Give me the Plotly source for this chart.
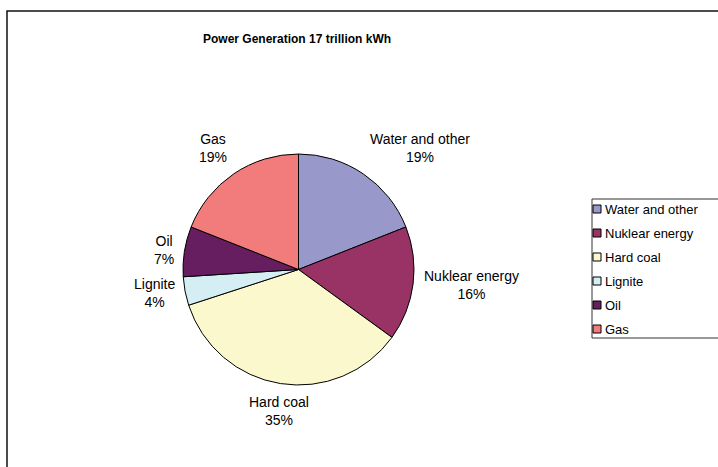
import math
import plotly.graph_objects as go

# Power generation mix, share of 17 trillion kWh (%)
categories = ["Water and other", "Nuklear energy", "Hard coal", "Lignite", "Oil", "Gas"]
shares = [19, 16, 35, 4, 7, 19]
colors = ["#9898CB", "#993366", "#FBF8CE", "#D4EEF3", "#661E60", "#F27C7C"]
title_text = "Power Generation 17 trillion kWh"

W, H = 718, 467
FONT = "Liberation Sans, Arial, sans-serif"

# pie geometry (pixels)
CX, CY, R = 298.5, 269.5, 115.5
LABEL_R = R + 9.5      # where the data labels start


def px(x):
    return x / W


def py(y):
    return 1 - y / H


fig = go.Figure()

fig.add_trace(go.Pie(
    labels=categories,
    values=shares,
    sort=False,
    direction="clockwise",
    rotation=0,
    marker=dict(colors=colors, line=dict(color="#000000", width=1)),
    textinfo="none",
    domain=dict(x=[px(CX - R), px(CX + R)], y=[py(CY + R), py(CY - R)]),
    showlegend=False,
    hoverinfo="label+percent",
))

shapes = [
    # chart frame
    dict(type="rect", xref="paper", yref="paper",
         x0=px(7), x1=1.2, y0=-0.2, y1=py(11),
         line=dict(color="#111111", width=1.5), fillcolor="rgba(0,0,0,0)"),
    # legend frame
    dict(type="rect", xref="paper", yref="paper",
         x0=px(592), x1=1.2, y0=py(338), y1=py(199),
         line=dict(color="#333333", width=1), fillcolor="#FFFFFF"),
]

annotations = [
    dict(text="<b>%s</b>" % title_text, x=px(297), y=py(39), xref="paper", yref="paper",
         showarrow=False, xanchor="center", yanchor="middle",
         font=dict(family=FONT, size=12, color="#000000")),
]

# outside data labels: category name and rounded share, placed off each slice's mid-angle
total = sum(shares)
cum = 0.0
for name, v in zip(categories, shares):
    mid = (cum + v / 2) / total * 2 * math.pi
    cum += v
    s, c = math.sin(mid), math.cos(mid)
    ax = CX + LABEL_R * s
    ay = CY - LABEL_R * c
    xanchor = "left" if s > 0.3 else ("right" if s < -0.3 else "center")
    yanchor = "bottom" if c > 0.3 else ("top" if c < -0.3 else "middle")
    pct = "%d%%" % round(v / total * 100)
    annotations.append(dict(text="%s<br>%s" % (name, pct), x=px(ax), y=py(ay),
                            xref="paper", yref="paper",
                            showarrow=False, xanchor=xanchor, yanchor=yanchor,
                            align="center", borderpad=0,
                            font=dict(family=FONT, size=14, color="#000000")))

# legend entries
row0, step = 209, 24
for i, (name, col) in enumerate(zip(categories, colors)):
    yc = row0 + i * step
    shapes.append(dict(type="rect", xref="paper", yref="paper",
                       x0=px(593), x1=px(601), y0=py(yc + 4), y1=py(yc - 4),
                       line=dict(color="#000000", width=1), fillcolor=col))
    annotations.append(dict(text=name, x=px(603), y=py(yc), xref="paper", yref="paper",
                            showarrow=False, xanchor="left", yanchor="middle",
                            font=dict(family=FONT, size=13, color="#000000")))

fig.update_layout(
    width=W, height=H,
    margin=dict(l=0, r=0, t=0, b=0),
    paper_bgcolor="#FFFFFF",
    plot_bgcolor="#FFFFFF",
    shapes=shapes,
    annotations=annotations,
)

fig.write_html("out.html")
